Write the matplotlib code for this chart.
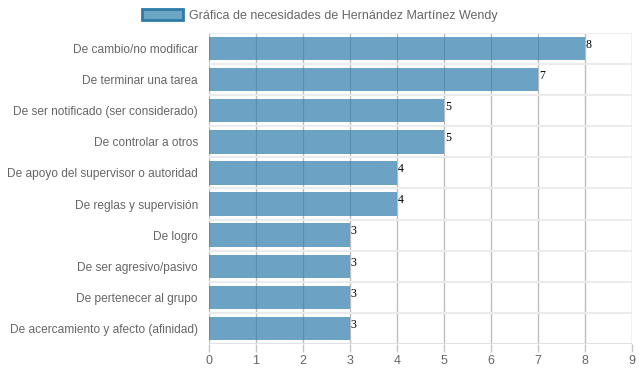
import numpy as np
import matplotlib.pyplot as plt
from matplotlib.patches import Patch

# datos de la grafica
categorias = ['De cambio/no modificar', 'De terminar una tarea',
              'De ser notificado (ser considerado)', 'De controlar a otros',
              'De apoyo del supervisor o autoridad', 'De reglas y supervisión',
              'De logro', 'De ser agresivo/pasivo', 'De pertenecer al grupo',
              'De acercamiento y afecto (afinidad)']
valores = [8, 7, 5, 5, 4, 4, 3, 3, 3, 3]
titulo_leyenda = 'Gráfica de necesidades de Hernández Martínez Wendy'
ticks_x = list(range(0, 10))

plt.rcParams['font.family'] = ['Liberation Sans', 'DejaVu Sans']

fig = plt.figure(figsize=(6.39, 3.72), dpi=100)
ax = fig.add_axes([0.327, 0.0753, 0.662, 0.836])

y = np.arange(len(categorias))
ax.barh(y, valores, height=0.75, color='#2e7dac', alpha=0.7, zorder=2)

# etiquetas de valor
for yi, v in zip(y, valores):
    ax.text(v + 0.02, yi - 0.12, str(v), family='Liberation Serif', fontsize=8.5,
            color='black', ha='left', va='center', zorder=3)

ax.set_xlim(0, 9)
ax.set_ylim(len(categorias) - 0.5, -0.5)
ax.set_xticks(ticks_x)
ax.set_yticks(y)
ax.set_yticklabels(categorias)

# rejilla vertical
for xv in ticks_x:
    ax.axvline(xv, color='#bdbdbd', lw=1, zorder=1)
# separadores horizontales
for yb in np.arange(-0.5, len(categorias), 1):
    ax.axhline(yb, color='#ebebeb', lw=1.5, zorder=1)

for s in ax.spines.values():
    s.set_visible(False)
ax.axhline(len(categorias) - 0.5, color='#bdbdbd', lw=1, zorder=1)

ax.tick_params(axis='x', colors='#666666', labelsize=9, length=6, width=1, pad=2)
ax.tick_params(axis='x', color='#c6c6c6')
ax.tick_params(axis='y', colors='#666666', labelsize=8.6, length=0, pad=8)

h = Patch(facecolor='#6ba6c5', edgecolor='#2e7aa8', linewidth=2)
fig.legend([h], [titulo_leyenda], loc='upper center', bbox_to_anchor=(0.5, 1.0),
           frameon=False, fontsize=9, handlelength=3.3, handleheight=1.0,
           handletextpad=0.45, labelcolor='#666666', borderaxespad=0.3)

fig.savefig('out.png', dpi=100)
